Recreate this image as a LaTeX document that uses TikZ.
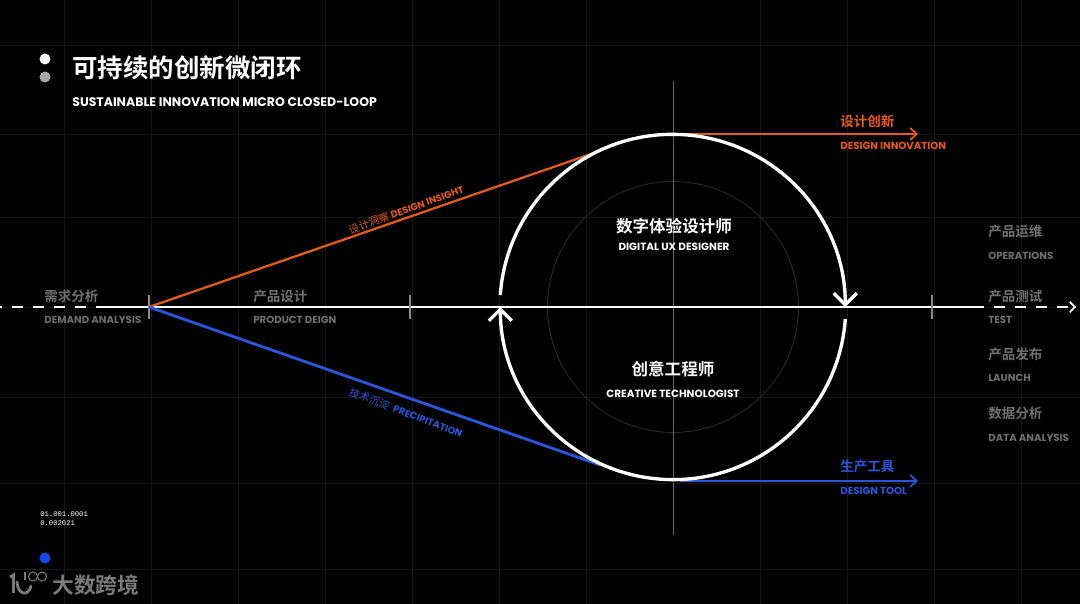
\documentclass[tikz,border=0pt]{standalone}
\usepackage{fontspec}
\setmainfont{Poppins}
\newfontfamily\cjk[BoldFont={Noto Sans CJK SC Bold}]{Noto Sans CJK SC}
\newfontfamily\codefont{Liberation Mono}
\usepackage{xcolor}
\usetikzlibrary{arrows.meta,positioning,calc}
\definecolor{gridline}{HTML}{161616}
\definecolor{inkorange}{HTML}{E65A17}
\definecolor{inkblue}{HTML}{2A56DC}
\definecolor{inkgrey}{HTML}{6F6F6F}
\definecolor{logogrey}{HTML}{7A7A7A}
\definecolor{tickgrey}{HTML}{8C8C8C}
\definecolor{dotblue}{HTML}{1547E6}

\begin{document}
\begin{tikzpicture}[
  x=0.02cm, y=-0.02cm,
  cntxt/.style={anchor=west, inner sep=0pt, font=\cjk\fontsize{7.7}{9}\selectfont\bfseries},
  entxt/.style={anchor=west, inner sep=0pt, font=\fontsize{5.8}{7}\selectfont\bfseries},
  greycn/.style={cntxt, text=inkgrey},
  greyen/.style={entxt, text=inkgrey},
  hubcn/.style={anchor=center, inner sep=0pt, text=white, font=\cjk\fontsize{9.4}{11}\selectfont\bfseries},
  huben/.style={anchor=center, inner sep=0pt, text=white, font=\fontsize{5.95}{7}\selectfont\bfseries},
  slanted/.style={inner sep=0pt, font=\cjk\fontsize{6}{7}\selectfont},
  dot/.style={circle, inner sep=0pt, minimum size=0.22cm},
  ringarc/.style={draw=white, line width=1.9pt},
  ringtip/.style={-{Straight Barb[length=2.3mm,width=4.6mm,line width=1.9pt]}},
  axisline/.style={draw=white, line width=0.8pt},
  axisdash/.style={axisline, dash pattern=on 0.22cm off 0.2cm},
  tickmark/.style={draw=tickgrey, line width=0.6pt},
  feed/.style={line width=1.3pt},
  outarr/.style={line width=1.3pt, -{Straight Barb[length=1.3mm,width=2.4mm,line width=1pt]}}
]
\fill[black] (0,0) rectangle (1080,604);
\useasboundingbox (0,0) rectangle (1080,604);
% grid
\foreach \gx in {64,151,238,325,412,499,586,760,847,934,1021}{\draw[gridline,line width=0.4pt] (\gx,0) -- (\gx,604);}
\foreach \gy in {45,134,217,307,397,483,569}{\draw[gridline,line width=0.4pt] (0,\gy) -- (1080,\gy);}

\coordinate (mid)    at (673,307);
\coordinate (hub)    at (149,307);
\coordinate (axisin) at (-9,307);
\coordinate (axisl)  at (102,307);
\coordinate (axisr)  at (984,307);
\coordinate (axisdashr) at (994,307);
\coordinate (axisout) at (1076,307);
\coordinate (polen)  at (673,81);
\coordinate (poles)  at (673,535);
\coordinate (ringne) at (594,153);
\coordinate (ringse) at (600,465);
\coordinate (ringtop) at (680,134);
\coordinate (ringbot) at (680,481);
\coordinate (innoend) at (918,134);
\coordinate (toolend) at (918,481);

% inner circle and cross
\node[circle, draw=white!17!black, line width=0.5pt, minimum size=5.02cm, inner sep=0pt] (core) at (mid) {};
\draw[tickgrey!70!black,line width=0.4pt] (polen) -- (poles);

% axis
\draw[axisdash] (axisin) -- (axisl);
\draw[axisline] (axisl) -- (axisr);
\draw[axisdash, -{Straight Barb[length=1mm,width=2.1mm,line width=1pt]}] (axisdashr) -- (axisout);
\foreach \tx in {149,410,932}{\draw[tickmark] (\tx,295) -- (\tx,319);}

% coloured paths
\draw[inkorange,feed] (hub) -- (ringne);
\draw[inkblue,feed,line width=1.6pt] (hub) -- (ringse);
\draw[inkorange,outarr] (ringtop) -- (innoend);
\draw[inkblue,outarr,line width=1.6pt] (ringbot) -- (toolend);

% ring
\draw[ringarc,ringtip] (500.3,295) arc[start angle=184,end angle=360,radius=172.7];
\draw[ringarc,ringtip] (845.3,319) arc[start angle=4,end angle=180,radius=172.7];

% title
\node[dot, fill=white] (dota) at (45,59) {};
\node[dot, fill=white!65!black] (dotb) at (45,77) {};
\node[anchor=west, inner sep=0pt, text=white, font=\cjk\fontsize{14.5}{16}\selectfont\bfseries] (title) at (72,68) {可持续的创新微闭环};
\node[anchor=west, inner sep=0pt, text=white, font=\fontsize{7.1}{8}\selectfont\bfseries] (subtitle) at (72,102) {SUSTAINABLE INNOVATION MICRO CLOSED-LOOP};

% hub labels
\node[hubcn] (uxcn) at (674,226) {数字体验设计师};
\node[huben] (uxen) at (674,247) {DIGITAL UX DESIGNER};
\node[hubcn] (techcn) at (673,369) {创意工程师};
\node[huben] (techen) at (673,394) {CREATIVE TECHNOLOGIST};

% outputs
\node[cntxt, text=inkorange] (innocn) at (840,121) {设计创新};
\node[entxt, text=inkorange] (innoen) at (840,146) {DESIGN INNOVATION};
\node[cntxt, text=inkblue] (toolcn) at (840,466) {生产工具};
\node[entxt, text=inkblue] (toolen) at (840,491) {DESIGN TOOL};

% stages
\node[greycn] (demcn) at (44,296) {需求分析};
\node[greyen] (demen) at (44,320) {DEMAND ANALYSIS};
\node[greycn] (prodcn) at (253,296) {产品设计};
\node[greyen] (proden) at (253,320) {PRODUCT DEIGN};
\node[greycn] (opscn) at (988,231) {产品运维};
\node[greyen] (opsen) at (988,256) {OPERATIONS};
\node[greycn] (testcn) at (988,296) {产品测试};
\node[greyen] (testen) at (988,320) {TEST};
\node[greycn] (launcn) at (988,354) {产品发布};
\node[greyen] (launen) at (988,378) {LAUNCH};
\node[greycn] (datacn) at (988,413) {数据分析};
\node[greyen] (dataen) at (988,438) {DATA ANALYSIS};

% line labels
\node[slanted, text=inkorange, rotate=20] (insight) at (406,209.5) {设计洞察 {\fontspec{Poppins}\bfseries\fontsize{5.5}{7}\selectfont DESIGN INSIGHT}};
\node[slanted, text=inkblue, rotate=-20.5] (precip) at (406,412.5) {技术沉淀 \ {\fontspec{Poppins}\bfseries\fontsize{5.5}{7}\selectfont PRECIPITATION}};

% corner
\node[anchor=north west, inner sep=0pt, align=left, text=white, font=\codefont\fontsize{4.1}{5.2}\selectfont] (code) at (40,511) {01.001.0001\\0.002021};
\node[dot, fill=dotblue] (dotc) at (45,558) {};
\node[anchor=west, inner sep=0pt, text=logogrey, font=\cjk\fontsize{12.4}{14}\selectfont\bfseries] (brand) at (52,585) {大数跨境};
\draw[logogrey,line width=1.6pt] (10,577) -- (13.5,575) -- (13.5,593);
\draw[logogrey,line width=1.6pt,line cap=round] (17,582) .. controls (18,596) and (29,596) .. (31,586);
\draw[logogrey,line width=0.6pt] (25,572) -- (25,580.5);
\draw[logogrey,line width=0.6pt] (33,576.5) circle[radius=4.5];
\draw[logogrey,line width=0.6pt] (42,576.5) circle[radius=4.5];
\end{tikzpicture}
\end{document}
